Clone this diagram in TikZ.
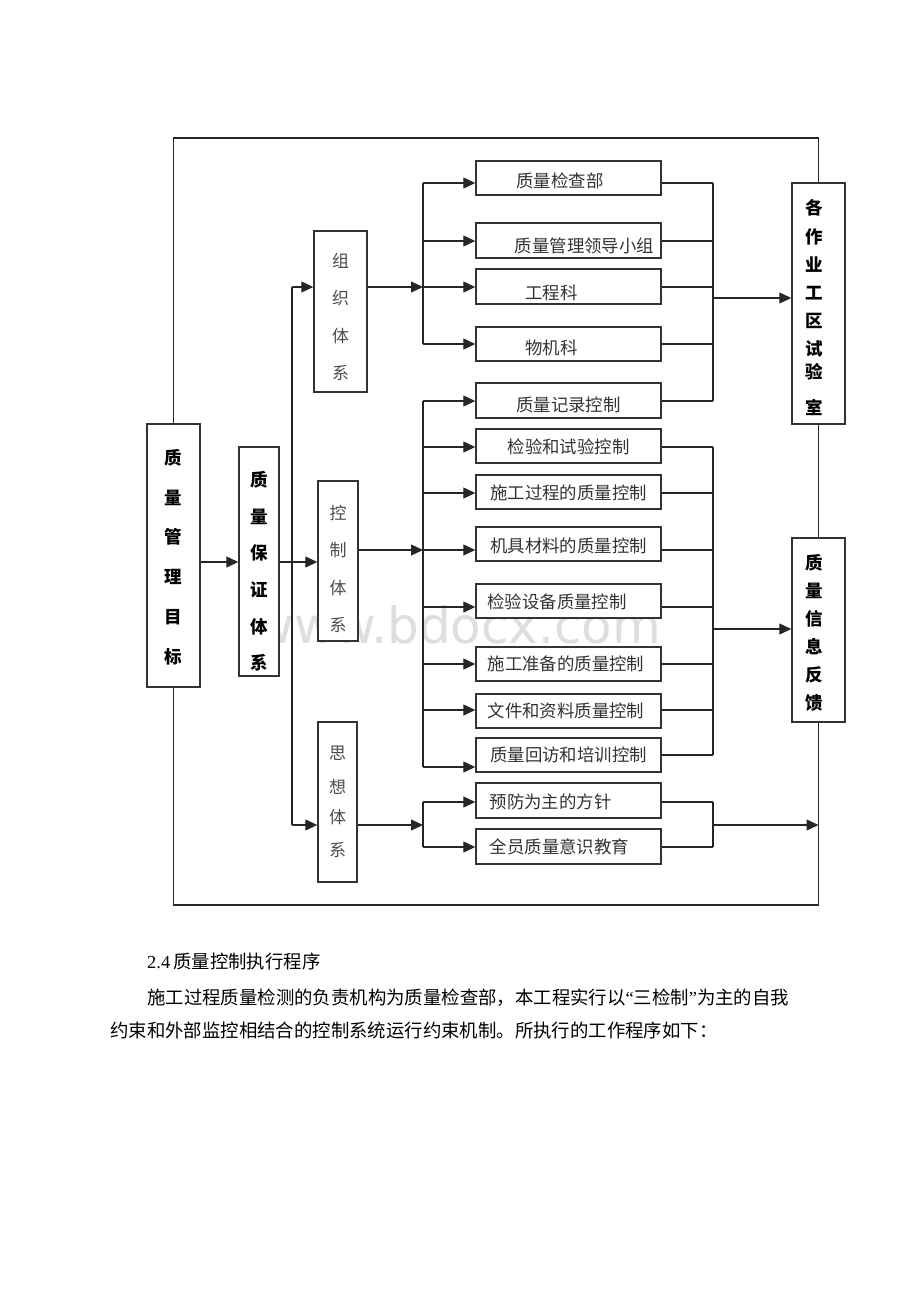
\documentclass[tikz,border=0pt]{standalone}
\usepackage{fontspec}
\setmainfont{Liberation Serif}
\newfontfamily\cjk{Noto Sans CJK SC}
\newfontfamily\wmfont{DejaVu Sans}
\usetikzlibrary{arrows.meta}
\begin{document}
\begin{tikzpicture}[x=1pt,y=-1pt,
  box/.style={draw=black!80, line width=1.4pt, fill=white, inner sep=0pt},
  lbox/.style={box, minimum width=185pt, minimum height=34pt},
  vbox/.style={box, minimum width=#1pt},
  ln/.style={line width=1.2pt, draw=black!85},
  arr/.style={ln, -{Triangle[length=12pt,width=11pt]}},
  txt/.style={font=\cjk\fontsize{17.4}{17.4}\selectfont, text=black!80, inner sep=0pt},
  vtb/.style={font=\cjk\bfseries\fontsize{17.5}{17.5}\selectfont, text=black, inner sep=0pt},
  vtl/.style={font=\cjk\fontsize{17}{17}\selectfont, text=black!70, inner sep=0pt},
  para/.style={font=\cjk\fontsize{18.4}{18.4}\selectfont, text=black, inner sep=0pt, anchor=west}]
\fill[white] (0,0) rectangle (920,1302);
\useasboundingbox (0,0) rectangle (920,1302);
% watermark
\node[anchor=base west, inner sep=0pt, text=black!13, font=\wmfont\fontsize{50}{50}\selectfont] (wm) at (253,643) {www.bdocx.com};
% level coordinates
\coordinate (TOP) at (0,138);
\coordinate (BOT) at (0,905);
\coordinate (T1) at (292,287);
\coordinate (T2) at (292,562);
\coordinate (T3) at (292,825);
\coordinate (OB) at (423,287);
\coordinate (CB) at (423,550);
\coordinate (IB) at (423,825);
\coordinate (M1) at (713,298);
\coordinate (M2) at (713,629);
\coordinate (M3) at (713,825);
\coordinate (L1) at (713,183);
\coordinate (L2) at (713,241);
\coordinate (L3) at (713,287);
\coordinate (L4) at (713,344);
\coordinate (L5) at (713,401);
\coordinate (K1) at (713,447);
\coordinate (K2) at (713,493);
\coordinate (K3) at (713,550);
\coordinate (K4) at (713,607);
\coordinate (K5) at (713,664);
\coordinate (K6) at (713,710);
\coordinate (K7) at (713,767);
\coordinate (K7r) at (713,755);
\coordinate (S1) at (713,802);
\coordinate (S2) at (713,847);
% connectors
\draw[ln] (T1) -- (T3);
\draw[ln] (OB |- L1) -- (OB |- L4);
\draw[ln] (CB |- L5) -- (CB |- K7);
\draw[ln] (IB |- S1) -- (IB |- S2);
\draw[ln] (L1) -- (L5);
\draw[ln] (K1) -- (K7r);
\draw[ln] (S1) -- (S2);
% boxes
\node[vbox=53, minimum height=263pt] (goal) at (173.5,555.5) {};
\node[vbox=40, minimum height=229pt] (guar) at (259,561.5) {};
\node[vbox=53, minimum height=161pt] (org) at (340.5,311.5) {};
\node[vbox=40, minimum height=160pt] (ctrl) at (338,561) {};
\node[vbox=39, minimum height=160pt] (idea) at (337.5,802) {};
\node[vbox=53, minimum height=241pt] (lab) at (818.5,303.5) {};
\node[vbox=53, minimum height=184pt] (fb) at (818.5,630) {};
\node[lbox] (b1) at (568.5,178) {};
\node[lbox, minimum height=35pt] (b2) at (568.5,240.5) {};
\node[lbox, minimum height=35pt] (b3) at (568.5,286.5) {};
\node[lbox] (b4) at (568.5,344) {};
\node[lbox, minimum height=35pt] (b5) at (568.5,400.5) {};
\node[lbox] (c1) at (568.5,446) {};
\node[lbox] (c2) at (568.5,492) {};
\node[lbox] (c3) at (568.5,544) {};
\node[lbox] (c4) at (568.5,601) {};
\node[lbox] (c5) at (568.5,664) {};
\node[lbox] (c6) at (568.5,711) {};
\node[lbox] (c7) at (568.5,755) {};
\node[lbox, minimum height=35pt] (t1) at (568.5,800.5) {};
\node[lbox, minimum height=35pt] (t2) at (568.5,846.5) {};
% box texts
\node[txt] (b1t) at ([xshift=-8.5pt,yshift=-3pt]b1.center) {质量检查部};
\node[txt] (b2t) at ([xshift=16pt,yshift=-5.5pt]b2.center) {质量管理领导小组};
\node[txt] (b3t) at ([xshift=-17pt,yshift=-6.5pt]b3.center) {工程科};
\node[txt] (b4t) at ([xshift=-17pt,yshift=-4pt]b4.center) {物机科};
\node[txt] (b5t) at ([yshift=-4.5pt]b5.center) {质量记录控制};
\node[txt] (c1t) at ([yshift=-1pt]c1.center) {检验和试验控制};
\node[txt] (c2t) at ([yshift=-1pt]c2.center) {施工过程的质量控制};
\node[txt] (c3t) at ([yshift=-2pt]c3.center) {机具材料的质量控制};
\node[txt] (c4t) at ([xshift=-11.5pt,yshift=-1pt]c4.center) {检验设备质量控制};
\node[txt] (c5t) at ([xshift=-2.5pt]c5.center) {施工准备的质量控制};
\node[txt] (c6t) at ([xshift=-2.5pt]c6.center) {文件和资料质量控制};
\node[txt] (c7t) at (c7.center) {质量回访和培训控制};
\node[txt] (t1t) at ([xshift=-18pt,yshift=-1.5pt]t1.center) {预防为主的方针};
\node[txt] (t2t) at ([xshift=-9pt]t2.center) {全员质量意识教育};
% vertical texts
\foreach \c/\y [count=\i] in {质/458,量/498,管/537,理/577,目/617,标/657}
  \node[vtb] (g\i) at (173.5,\y) {\c};
\foreach \c/\y [count=\i] in {质/480,量/517,保/553,证/590,体/627,系/663}
  \node[vtb] (q\i) at (259,\y) {\c};
\foreach \c/\y [count=\i] in {组/261,织/298,体/336,系/373}
  \node[vtl] (o\i) at (340.5,\y) {\c};
\foreach \c/\y [count=\i] in {控/513,制/550,体/588,系/625}
  \node[vtl] (k\i) at (338,\y) {\c};
\foreach \c/\y [count=\i] in {思/753,想/787,体/817,系/850}
  \node[vtl] (s\i) at (337.5,\y) {\c};
\foreach \c/\y [count=\i] in {各/208,作/237,业/265,工/293,区/321,试/349,验/372,室/407}
  \node[vtb] (w\i) at (814,\y) {\c};
\foreach \c/\y [count=\i] in {质/563,量/591,信/619,息/647,反/675,馈/703}
  \node[vtb] (f\i) at (814,\y) {\c};
% arrows
\draw[arr] (goal.east |- T2) -- (guar.west |- T2);
\draw[arr] (guar.east |- T2) -- (ctrl.west |- T2);
\draw[arr] (T1) -- (org.west |- T1);
\draw[arr] (T3) -- (idea.west |- T3);
\draw[arr] (org.east |- OB) -- (OB);
\draw[arr] (ctrl.east |- CB) -- (CB);
\draw[arr] (idea.east |- IB) -- (IB);
\draw[arr] (OB |- L1) -- (b1.west |- L1);
\draw[arr] (OB |- L2) -- (b2.west |- L2);
\draw[arr] (OB |- L3) -- (b3.west |- L3);
\draw[arr] (OB |- L4) -- (b4.west |- L4);
\draw[arr] (CB |- L5) -- (b5.west |- L5);
\draw[arr] (CB |- K1) -- (c1.west |- K1);
\draw[arr] (CB |- K2) -- (c2.west |- K2);
\draw[arr] (CB |- K3) -- (c3.west |- K3);
\draw[arr] (CB |- K4) -- (c4.west |- K4);
\draw[arr] (CB |- K5) -- (c5.west |- K5);
\draw[arr] (CB |- K6) -- (c6.west |- K6);
\draw[arr] (CB |- K7) -- (c7.west |- K7);
\draw[arr] (IB |- S1) -- (t1.west |- S1);
\draw[arr] (IB |- S2) -- (t2.west |- S2);
\draw[ln] (b1.east |- L1) -- (L1);
\draw[ln] (b2.east |- L2) -- (L2);
\draw[ln] (b3.east |- L3) -- (L3);
\draw[ln] (b4.east |- L4) -- (L4);
\draw[ln] (b5.east |- L5) -- (L5);
\draw[ln] (c1.east |- K1) -- (K1);
\draw[ln] (c2.east |- K2) -- (K2);
\draw[ln] (c3.east |- K3) -- (K3);
\draw[ln] (c4.east |- K4) -- (K4);
\draw[ln] (c5.east |- K5) -- (K5);
\draw[ln] (c6.east |- K6) -- (K6);
\draw[ln] (c7.east |- K7r) -- (K7r);
\draw[ln] (t1.east |- S1) -- (S1);
\draw[ln] (t2.east |- S2) -- (S2);
\draw[arr] (M1) -- (lab.west |- M1);
\draw[arr] (M2) -- (fb.west |- M2);
\draw[arr] (M3) -- (fb.south |- M3);
% outer loop
\draw[ln] (goal.north) -- (goal.north |- TOP) -- (lab.north |- TOP) -- (lab.north);
\draw[ln] (goal.south) -- (goal.south |- BOT) -- (fb.south |- BOT) -- (fb.south);
\draw[ln] (lab.south) -- (fb.north);
% text below
\node[para] (h1) at (147,961) {{\rmfamily 2.4}\hspace{3pt}质量控制执行程序};
\node[para] (p1) at (147,998) {施工过程质量检测的负责机构为质量检查部，本工程实行以{\rmfamily “}三检制{\rmfamily ”}为主的自我};
\node[para] (p2) at (110,1030) {约束和外部监控相结合的控制系统运行约束机制。所执行的工作程序如下：};
\end{tikzpicture}
\end{document}
